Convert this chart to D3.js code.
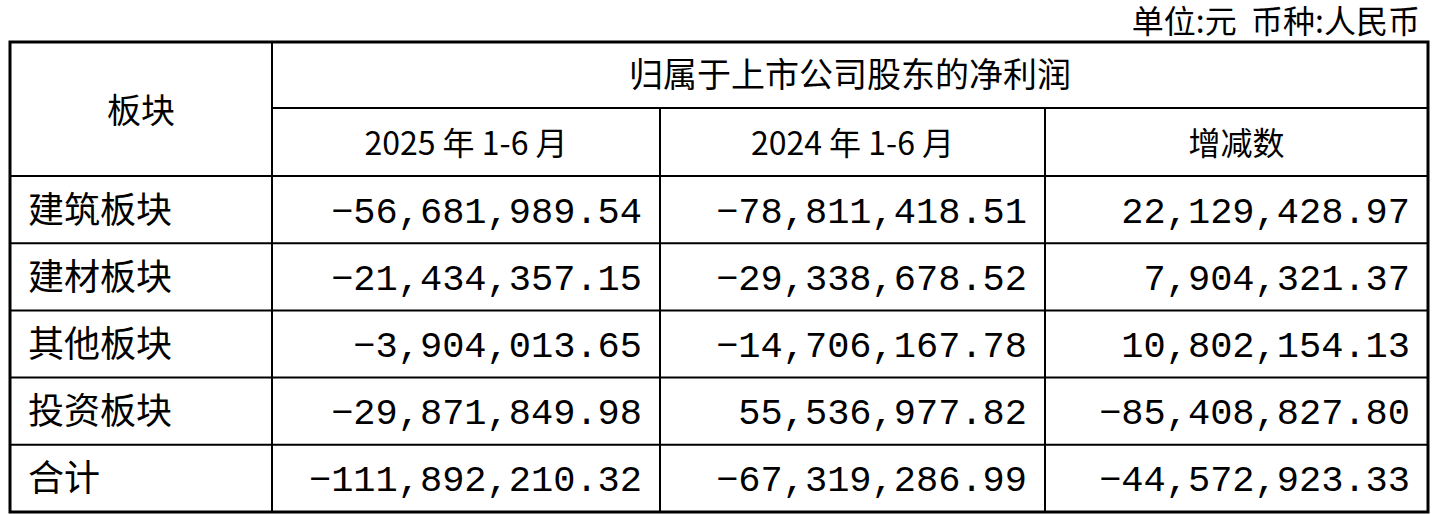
<!DOCTYPE html>
<html><head><meta charset="utf-8">
<script src="https://cdn.jsdelivr.net/npm/d3@7/dist/d3.min.js"></script>
<style>body{margin:0;background:#fff}</style></head>
<body><svg id="c" width="1438" height="514"></svg>
<script>
const sectors=["建筑板块","建材板块","其他板块","投资板块","合计"];
const v2025=["-56,681,989.54","-21,434,357.15","-3,904,013.65","-29,871,849.98","-111,892,210.32"];
const v2024=["-78,811,418.51","-29,338,678.52","-14,706,167.78","55,536,977.82","-67,319,286.99"];
const vDiff=["22,129,428.97","7,904,321.37","10,802,154.13","-85,408,827.80","-44,572,923.33"];
const colHeads=["2025 年 1-6 月","2024 年 1-6 月","增减数"];
const svg=d3.select("#c");
const cn="'Noto Sans CJK SC',sans-serif", num="'Liberation Mono',monospace";
const colX=[10,272,660,1045,1428];
const y=d3.scaleBand().domain(sectors).range([176,512]);
const L=(x1,y1,x2,y2,w)=>svg.append("line").attr("x1",x1).attr("y1",y1).attr("x2",x2).attr("y2",y2).attr("stroke","#000").attr("stroke-width",w);
svg.append("text").attr("x",1420).attr("y",33).attr("text-anchor","end").attr("font-family",cn).attr("font-size",32).attr("xml:space","preserve").text("单位:元  币种:人民币");
L(colX[1],108,colX[4],108,2);
L(colX[0],176,colX[4],176,2);
sectors.forEach((s,i)=>{if(i>0)L(colX[0],y(s),colX[4],y(s),2);});
L(colX[1],42,colX[1],512,2);
L(colX[2],108,colX[2],512,2);
L(colX[3],108,colX[3],512,2);
svg.append("rect").attr("x",10).attr("y",42).attr("width",1418).attr("height",470).attr("fill","none").attr("stroke","#000").attr("stroke-width",3);
svg.append("text").attr("x",141).attr("y",123).attr("text-anchor","middle").attr("font-family",cn).attr("font-size",34).text("板块");
svg.append("text").attr("x",850).attr("y",87).attr("text-anchor","middle").attr("font-family",cn).attr("font-size",34).text("归属于上市公司股东的净利润");
colHeads.forEach((h,i)=>svg.append("text").attr("x",(colX[i+1]+colX[i+2])/2).attr("y",155).attr("text-anchor","middle").attr("font-family",cn).attr("font-size",32).text(h));
const cols=[v2025,v2024,vDiff];
sectors.forEach((s,i)=>{
  const cy=y(s)+y.bandwidth()/2+13;
  svg.append("text").attr("x",28).attr("y",cy).attr("font-family",cn).attr("font-size",36).text(s);
  cols.forEach((c,j)=>svg.append("text").attr("x",colX[j+2]-18).attr("y",cy).attr("text-anchor","end").attr("font-family",num).attr("font-size",37).text(c[i].replace("-","−")));
});
</script></body></html>
